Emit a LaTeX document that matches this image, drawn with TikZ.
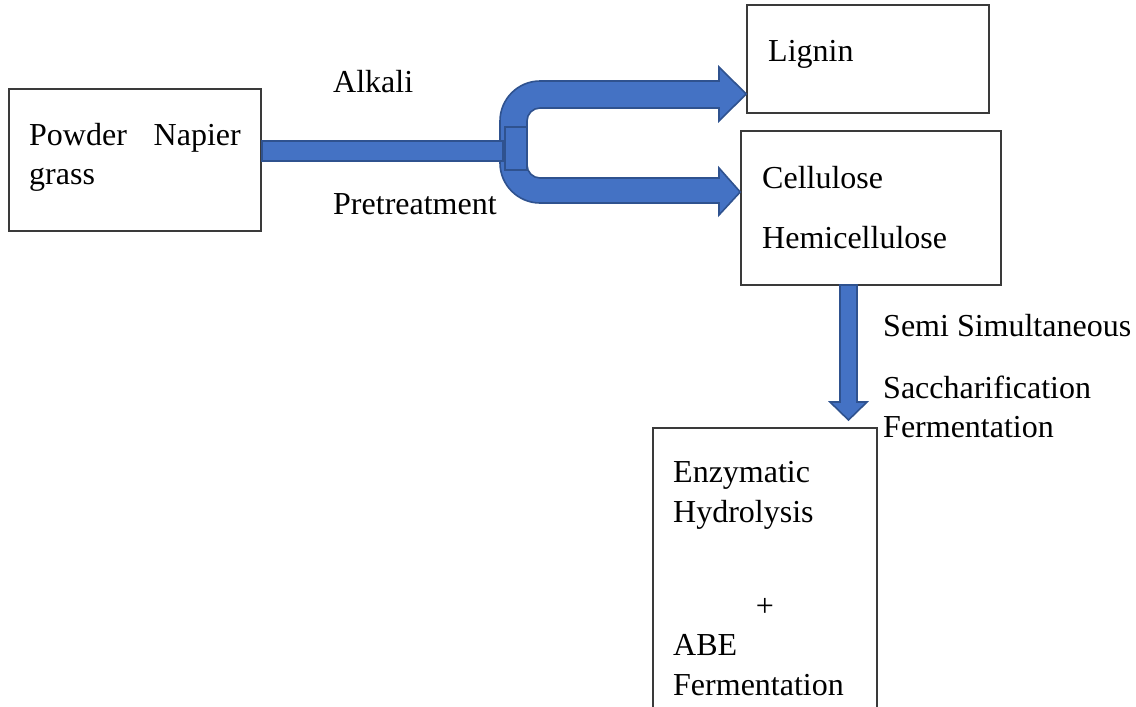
\documentclass[tikz,border=0pt]{standalone}
\usepackage{fontspec}
\setmainfont{Liberation Serif}
\definecolor{arrowfill}{HTML}{4472C4}
\definecolor{arrowline}{HTML}{2F528F}
\definecolor{boxline}{HTML}{3A3A3A}
\tikzset{
  box/.style={draw=boxline, line width=1.6pt, fill=white, inner sep=0pt},
  lbl/.style={anchor=base west, inner sep=0pt, font=\fontsize{32}{38}\selectfont},
  blockarrow/.style={fill=arrowfill, draw=arrowline, line width=1.6pt, line join=miter},
}
\begin{document}
\begin{tikzpicture}[x=1pt,y=-1pt]
\useasboundingbox (0,0) rectangle (1136,707);
\clip (0,0) rectangle (1136,707);
\fill[white] (0,0) rectangle (1136,707);

% boxes
\node[box, minimum width=252pt, minimum height=142pt] (powder) at (135,160) {};
\node[box, minimum width=242pt, minimum height=108pt] (lignin) at (868,59) {};
\node[box, minimum width=260pt, minimum height=154pt] (cellulose) at (871,208) {};
\node[box, minimum width=224pt, minimum height=320pt] (hydro) at (765,588) {};

% U-shaped splitting arrow
\path (lignin.west |- 0,94) coordinate (tipA);
\path (cellulose.west |- 0,192) coordinate (tipB);
\draw[blockarrow] (tipA) -- (719,67) -- (719,81) -- (540,81)
  .. controls (518,81) and (500,99) .. (500,121) -- (500,163)
  .. controls (500,185) and (518,203) .. (540,203) -- (719,203) -- (719,215)
  -- (tipB) -- (719,168) -- (719,178) -- (540,178)
  .. controls (532.8,178) and (527,172.2) .. (527,165) -- (527,121)
  .. controls (527,113.8) and (532.8,108) .. (540,108) -- (719,108) -- (719,121) -- cycle;

% bar from powder box
\draw[blockarrow] (powder.east |- 0,141) rectangle (503,161);
\draw[blockarrow] (505,127) rectangle (527,170);

% vertical arrow
\path (cellulose.south -| 848.5,0) coordinate (vtop);
\path (848.5,420) coordinate (vtip);
\draw[blockarrow] (840,285) -- (840,402) -- (830,402) -- (vtip) -- (867,402) -- (857,402) -- (857,285) -- cycle;

% texts
\node[lbl] (t1) at (29,145) {Powder};
\node[lbl, anchor=base east] (t2) at (241,145) {Napier};
\node[lbl] (t3) at (29,184) {grass};
\node[lbl] (t4) at (333,92) {Alkali};
\node[lbl] (t5) at (333,214) {Pretreatment};
\node[lbl] (t6) at (768,61) {Lignin};
\node[lbl] (t7) at (762,188) {Cellulose};
\node[lbl] (t8) at (762,248) {Hemicellulose};
\node[lbl] (t9) at (883,336) {Semi Simultaneous};
\node[lbl] (t10) at (883,398) {Saccharification};
\node[lbl] (t11) at (883,437) {Fermentation};
\node[lbl] (t12) at (673,482) {Enzymatic};
\node[lbl] (t13) at (673,522) {Hydrolysis};
\node[inner sep=0pt, font=\fontsize{32}{38}\selectfont] (t14) at (765,607) {+};
\node[lbl] (t15) at (673,655) {ABE};
\node[lbl] (t16) at (673,695) {Fermentation};
\end{tikzpicture}
\end{document}
